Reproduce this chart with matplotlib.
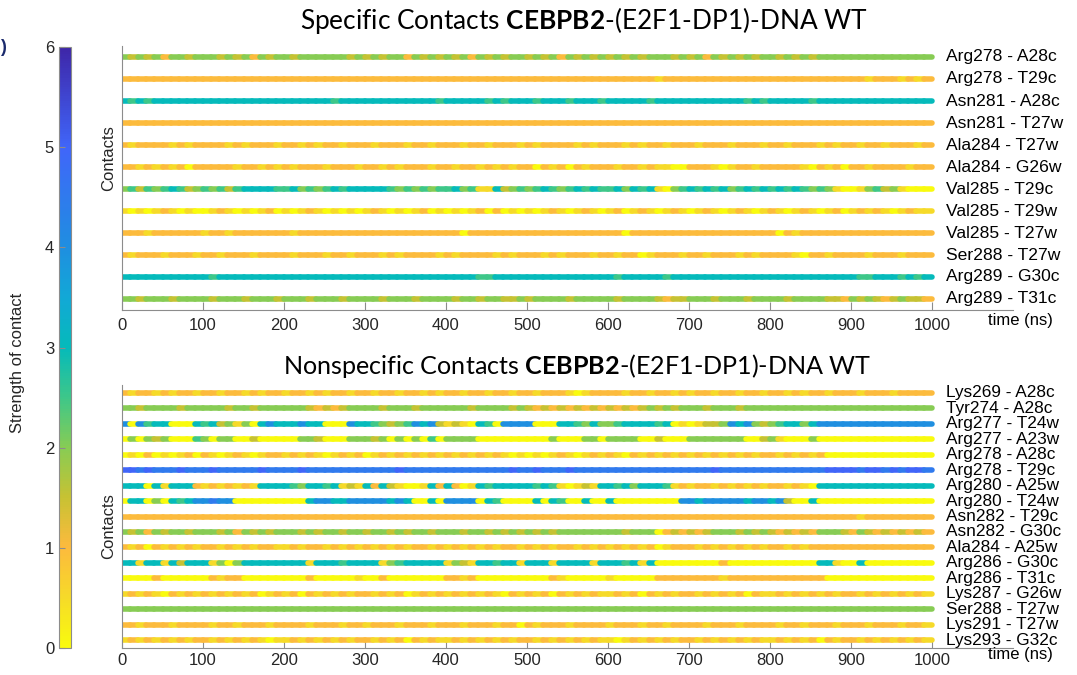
import numpy as np
import matplotlib.pyplot as plt
from matplotlib.colors import LinearSegmentedColormap, Normalize
from matplotlib.collections import LineCollection
from matplotlib.cm import ScalarMappable

# ---------- data ----------
# each code string: one hex digit per 10 ns bin, strength = digit / 2
time_step = 10
x_ticks = list(range(0, 1001, 100))

spec_labels = ["Arg278 - A28c", "Arg278 - T29c", "Asn281 - A28c", "Asn281 - T27w",
               "Ala284 - T27w", "Ala284 - G26w", "Val285 - T29c", "Val285 - T29w",
               "Val285 - T27w", "Ser288 - T27w", "Arg289 - G30c", "Arg289 - T31c"]
spec_codes = [
    "4343424434 4434342434 4344444434 3434424343 4342434344 3434243434 3434344434 3424343434 4343434444 4444444444",
    "2222222222 2222222222 2222222222 2222222222 2222222222 2222222222 2222221222 2222222222 2222222222 2212221212",
    "6565666666 6666666666 6666665666 6666666665 6666656566 6566656665 6666656666 6666666565 6666656666 6666666666",
    "2222222222 2222222222 2222222222 2222222222 2222222222 2222222222 2222222222 2222222222 2222222222 2222222222",
    "2122221212 2221212221 2212122122 2122212212 2212212221 2122221212 2212122122 2122212221 2212221212 2122122212",
    "2212121202 2222122121 2122212221 2212122212 2122121212 2021202122 2122121100 2221012212 2222102120 2212222122",
    "4535456534 5453566665 5645456566 6665454545 5645116345 4565456565 5646561045 6565645656 5656545410 0145341000",
    "1010121010 0121010120 1012101010 1210101201 0101202010 1012101210 1201210121 0121012101 2101210120 1212101211",
    "2221222222 1221222222 2122222222 2222222222 2202222222 2222222222 2202222222 2222222222 2021222222 2222222222",
    "2122212221 2212221222 2122212212 2212122221 2122221212 2212122212 2122012221 2212221212 2221022122 2212221222",
    "6666666666 6566666666 6666666666 6666666666 6666556666 6666666666 6566666566 6666666666 6666666666 6556665656",
    "4434443444 4344434443 4443444344 4434443444 4344344334 3444434444 4344443233 4443444344 4434444332 4343234332",
]

nonspec_labels = ["Lys269 - A28c", "Tyr274 - A28c", "Arg277 - T24w", "Arg277 - A23w",
                  "Arg278 - A28c", "Arg278 - T29c", "Arg280 - A25w", "Arg280 - T24w",
                  "Asn282 - T29c", "Asn282 - G30c", "Ala284 - A25w", "Arg286 - G30c",
                  "Arg286 - T31c", "Lys287 - G26w", "Ser288 - T27w", "Lys291 - T27w",
                  "Lys293 - G32c"]
nonspec_codes = [
    "2122121221 2212212122 1221212212 2122122121 2212212212 2122210122 2212212212 1221221221 2212122122 2122212222",
    "4434444344 4443443444 4443232344 4434443444 4443444434 3232323232 3232343434 4434443444 4444444444 4444444444",
    "8085660006 5634140686 6686600086 6543458683 1310650888 8000665464 4566665601 0133486843 4566468888 8888888888",
    "0404340005 4044003000 0044300044 4340404050 4444000000 0004000440 4444003000 4444444003 4100040000 0000000000",
    "0102010120 2101210122 1212101212 0121212121 2121212101 0101210121 2102121212 1212121212 2121212000 0000000000",
    "aa9a999a99 9a99999a99 99a9999999 9999a99999 99999999a9 9a999a9999 9999999999 999a999999 9999999aaa a9aa9a9aa9",
    "6660616662 1212121666 6546656131 6263100162 6201656666 6565101316 6564666512 1221212121 2212106666 6666666666",
    "0660406568 8988000000 0006886688 8886860060 8888065000 0606500600 6000000008 8688888688 6830060000 0000000000",
    "2222222222 2222222222 2222222222 2222222222 2222222222 2222222222 2222222222 2222222222 2222222222 2122222222",
    "4342434434 4434243434 4434344344 3443434434 4434434343 4343444444 4434440232 3234443434 3232324443 2432323232",
    "2120212121 2212121221 1212212121 2121212212 1212121221 2121221212 1212120122 2121212121 2212122222 2222222222",
    "6616616366 6140466666 6661666566 6614566666 1431665661 6661666616 6656160000 0000200000 0000006610 0600000000",
    "0000200000 0212200000 0002000001 0020000000 2212000000 0002100000 1000002222 2222122222 2222222000 0000000000",
    "1212102121 2121212012 1202121212 2121201212 1212121021 2120212121 1212021212 2121212021 1212121212 2121212121",
    "4444444444 4444444444 4444444444 4444444444 4444444444 4444444444 4444444444 4444444444 4444444444 4444444444",
    "2212221222 2122122212 2221222122 1222122212 2212221220 2122212222 1222122122 2212221222 2122122212 2212221221",
    "1212121212 2121212101 1212121212 2121202121 1212121212 2121212121 1012121212 2121212121 1212120212 2121212121",
]

# ---------- colormap (parula, reversed: yellow = 0) ----------
parula_r = LinearSegmentedColormap.from_list("parula_r", [
    (0.00, (0.976, 0.984, 0.054)),
    (0.083, (0.965, 0.855, 0.160)),
    (0.167, (0.990, 0.730, 0.240)),
    (0.25, (0.780, 0.760, 0.200)),
    (0.333, (0.530, 0.800, 0.330)),
    (0.417, (0.240, 0.780, 0.540)),
    (0.50, (0.020, 0.730, 0.730)),
    (0.583, (0.070, 0.660, 0.840)),
    (0.667, (0.120, 0.560, 0.880)),
    (0.833, (0.250, 0.400, 0.980)),
    (1.00, (0.243, 0.150, 0.660)),
])
norm = Normalize(0, 6)

TXT = "#262626"
SPINE = "#8c8c8c"
plt.rcParams["font.family"] = "Liberation Sans"
plt.rcParams["mathtext.fontset"] = "custom"
plt.rcParams["mathtext.rm"] = "Lato"
plt.rcParams["mathtext.bf"] = "Lato:bold"


def decode(code):
    return np.array([int(c, 16) / 2 for c in code.replace(" ", "")])


def draw_rows(ax, labels, codes, fs):
    for i, (lab, code) in enumerate(zip(labels, codes)):
        vals = decode(code)
        t = np.arange(len(vals) + 1) * time_step
        y = i + 1
        segs = [[(t[k], y), (t[k + 1], y)] for k in range(len(vals))]
        lc = LineCollection(segs, colors=parula_r(norm(vals)), linewidths=4.0,
                            capstyle="round")
        ax.add_collection(lc)
        ax.text(1017, y, lab, va="center", ha="left", fontsize=fs, color="black")
    ax.set_xlim(0, 1100)
    ax.set_ylim(len(labels) + 0.5, 0.5)
    ax.set_xticks(x_ticks)
    ax.set_yticks([])
    for s in ["top", "right"]:
        ax.spines[s].set_visible(False)
    for s in ["bottom", "left"]:
        ax.spines[s].set_color(SPINE)
        ax.spines[s].set_linewidth(0.8)
    ax.tick_params(axis="x", direction="in", length=5.5, color=SPINE,
                   labelsize=12, labelcolor=TXT)


fig = plt.figure(figsize=(10.77, 6.75), dpi=100)
ax1 = fig.add_axes([122 / 1077, 1 - 310 / 675, 891 / 1077, 264 / 675])
ax2 = fig.add_axes([122 / 1077, 1 - 648 / 675, 891 / 1077, 263 / 675])

draw_rows(ax1, spec_labels, spec_codes, 12.6)
draw_rows(ax2, nonspec_labels, nonspec_codes, 12.4)
ax1.tick_params(axis="x", pad=6)
ax2.tick_params(axis="x", pad=3.5)

ax1.set_ylabel("Contacts", fontsize=12, color=TXT)
ax1.yaxis.set_label_coords(-0.007, 0.576)
ax2.set_ylabel("Contacts", fontsize=12, color=TXT)
ax2.yaxis.set_label_coords(-0.007, 0.464)

ax1.text(1.008, -0.04, "time (ns)", transform=ax1.transAxes, ha="center",
         va="center", fontsize=12, color="black")
ax2.text(1.008, -0.026, "time (ns)", transform=ax2.transAxes, ha="center",
         va="center", fontsize=12, color="black")

fig.text(584 / 1077, 1 - 20 / 675, r"Specific Contacts $\mathbf{CEBPB2}$-(E2F1-DP1)-DNA WT",
         ha="center", va="center", fontsize=18.9, family="Lato", color="black")
fig.text(577 / 1077, 1 - 366 / 675, r"Nonspecific Contacts $\mathbf{CEBPB2}$-(E2F1-DP1)-DNA WT",
         ha="center", va="center", fontsize=18.1, family="Lato", color="black")

# colorbar on the left
cax = fig.add_axes([59 / 1077, 1 - 648 / 675, 12 / 1077, 601 / 675])
sm = ScalarMappable(norm=norm, cmap=parula_r)
cb = fig.colorbar(sm, cax=cax)
cb.set_ticks(range(0, 7))
cb.outline.set_edgecolor(SPINE)
cb.outline.set_linewidth(0.8)
cax.yaxis.set_ticks_position("left")
cax.yaxis.set_label_position("left")
cax.tick_params(direction="in", length=4, color=SPINE, labelsize=12, labelcolor=TXT)
cb.set_label("Strength of contact", fontsize=12, color=TXT)
cax.yaxis.set_label_coords(-2.85, 0.475)

fig.text(0.5 / 1077, 1 - 48 / 675, ")", ha="left", va="center", fontsize=13,
         fontweight="bold", color="#1a2a6c")

fig.savefig("out.png", dpi=100)
